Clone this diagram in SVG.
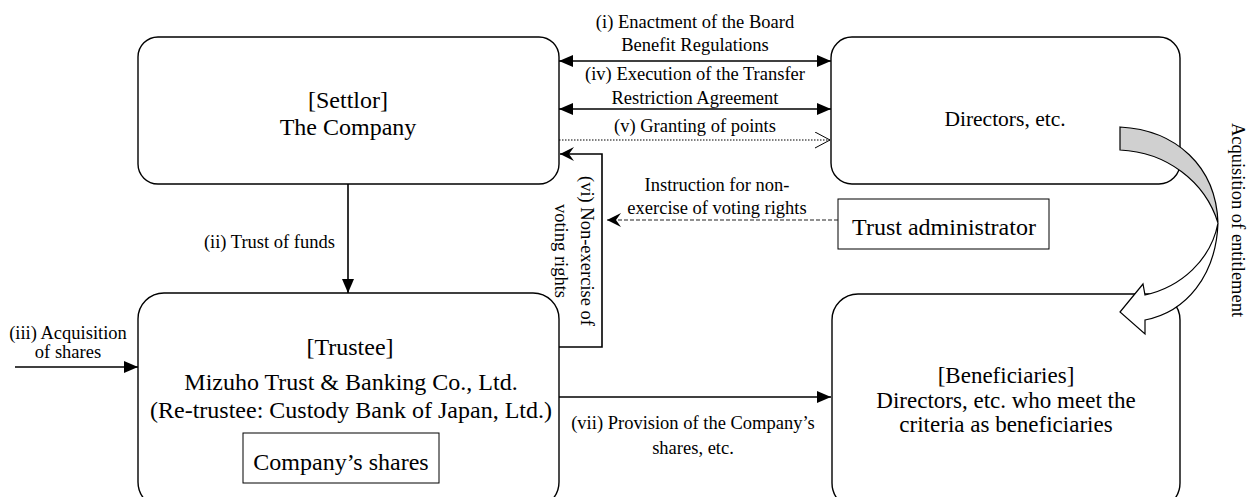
<svg xmlns="http://www.w3.org/2000/svg" width="1248" height="497" viewBox="0 0 1248 497">
<style>
text{font-family:"Liberation Serif",Tinos,"Times New Roman","Nimbus Roman","DejaVu Serif",serif;fill:#000}
.big{font-size:24px;text-anchor:middle}
.mid{font-size:23px;text-anchor:middle}
.dir{font-size:21.5px;text-anchor:middle}
.lbl{font-size:18.5px;text-anchor:middle}
.box{fill:#fff;stroke:#000;stroke-width:1.4}
.ln{fill:none;stroke:#000;stroke-width:1.6}
</style>
<defs>
<marker id="tri" viewBox="0 0 14 12" markerWidth="14" markerHeight="12" refX="14" refY="6" orient="auto-start-reverse" markerUnits="userSpaceOnUse">
<path d="M0,0 L14,6 L0,12 Z" fill="#000"/>
</marker>
<marker id="open" viewBox="0 0 16 17" markerWidth="16" markerHeight="17" refX="15" refY="8.5" orient="auto" markerUnits="userSpaceOnUse">
<path d="M0,0.5 L15,8.5 L0,16.5" fill="none" stroke="#000" stroke-width="1"/>
</marker>
<marker id="stealth" viewBox="0 0 14 14" markerWidth="14" markerHeight="14" refX="14" refY="7" orient="auto" markerUnits="userSpaceOnUse">
<path d="M0,0 L14,7 L0,14 L5,7 Z" fill="#000"/>
</marker>
</defs>

<g id="settlor">
<rect class="box" x="138" y="37" width="421" height="147" rx="20"/>
<text class="big" x="348" y="108">[Settlor]</text>
<text class="big" x="348" y="135">The Company</text>
</g>

<g id="directors">
<rect class="box" x="831" y="37" width="349" height="147" rx="21"/>
<text class="dir" x="1005" y="126">Directors, etc.</text>
</g>

<g id="trustee">
<rect class="box" x="138" y="293" width="421" height="215" rx="26"/>
<text class="big" x="350" y="355">[Trustee]</text>
<text class="big" x="351" y="390">Mizuho Trust &amp; Banking Co., Ltd.</text>
<text class="big" x="351" y="418">(Re-trustee: Custody Bank of Japan, Ltd.)</text>
</g>

<g id="shares">
<rect x="243" y="433" width="196" height="50" fill="#fff" stroke="#000" stroke-width="1"/>
<text class="big" x="341" y="470">Company’s shares</text>
</g>

<g id="beneficiaries">
<rect class="box" x="832" y="294" width="348" height="215" rx="26"/>
<text class="mid" x="1006" y="383">[Beneficiaries]</text>
<text class="mid" x="1006" y="408">Directors, etc. who meet the</text>
<text class="mid" x="1006" y="432">criteria as beneficiaries</text>
</g>

<g id="trust-administrator">
<rect x="838" y="199" width="211" height="50" fill="#fff" stroke="#000" stroke-width="1"/>
<text class="big" x="944" y="235">Trust administrator</text>
</g>

<g id="acquisition-arrow">
<path d="M1120,127 C1176,130 1216,166 1218,223 C1205,181 1166,152 1120,150 Z" fill="#d0d0d0" stroke="#000" stroke-width="1.2"/>
<path d="M1218,223 C1216,276 1186,312 1145,320 L1145,334 L1120,312 L1143,284 L1145,295 C1181,287 1211,260 1218,223 Z" fill="#fff" stroke="#000" stroke-width="1.2"/>
<text class="lbl" transform="translate(1232,220) rotate(90)" x="0" y="0">Acquisition of entitlement</text>
</g>

<g id="connectors">
<line class="ln" x1="559" y1="61" x2="831" y2="61" marker-start="url(#tri)" marker-end="url(#tri)"/>
<line class="ln" x1="559" y1="109" x2="831" y2="109" marker-start="url(#tri)" marker-end="url(#tri)"/>
<line x1="559" y1="140" x2="830" y2="140" stroke="#000" stroke-width="1.2" stroke-dasharray="1.5 1.5" marker-end="url(#open)"/>
<polyline class="ln" points="559,347 602,347 602,154 560,154" marker-end="url(#stealth)"/>
<line x1="838" y1="220" x2="607" y2="220" stroke="#222" stroke-width="1.2" stroke-dasharray="4 2" marker-end="url(#stealth)"/>
<line class="ln" x1="348" y1="184" x2="348" y2="293" marker-end="url(#tri)"/>
<line class="ln" x1="15" y1="367" x2="138" y2="367" marker-end="url(#tri)"/>
<line class="ln" x1="559" y1="397" x2="831" y2="397" marker-end="url(#tri)"/>

<text class="lbl" x="695" y="28">(i) Enactment of the Board</text>
<text class="lbl" x="695" y="51">Benefit Regulations</text>
<text class="lbl" x="695" y="80">(iv) Execution of the Transfer</text>
<text class="lbl" x="695" y="104">Restriction Agreement</text>
<text class="lbl" x="695" y="132">(v) Granting of points</text>
<text class="lbl" transform="translate(581,251) rotate(90)" x="0" y="0">(vi) Non-exercise of</text>
<text class="lbl" transform="translate(555,251) rotate(90)" x="0" y="0">voting rights</text>
<text class="lbl" x="717" y="191">Instruction for non-</text>
<text class="lbl" x="717" y="214">exercise of voting rights</text>
<text class="lbl" x="335" y="248" style="text-anchor:end">(ii) Trust of funds</text>
<text class="lbl" x="68" y="339">(iii) Acquisition</text>
<text class="lbl" x="68" y="358">of shares</text>
<text class="lbl" x="693" y="429">(vii) Provision of the Company’s</text>
<text class="lbl" x="693" y="454">shares, etc.</text>
</g>
</svg>
